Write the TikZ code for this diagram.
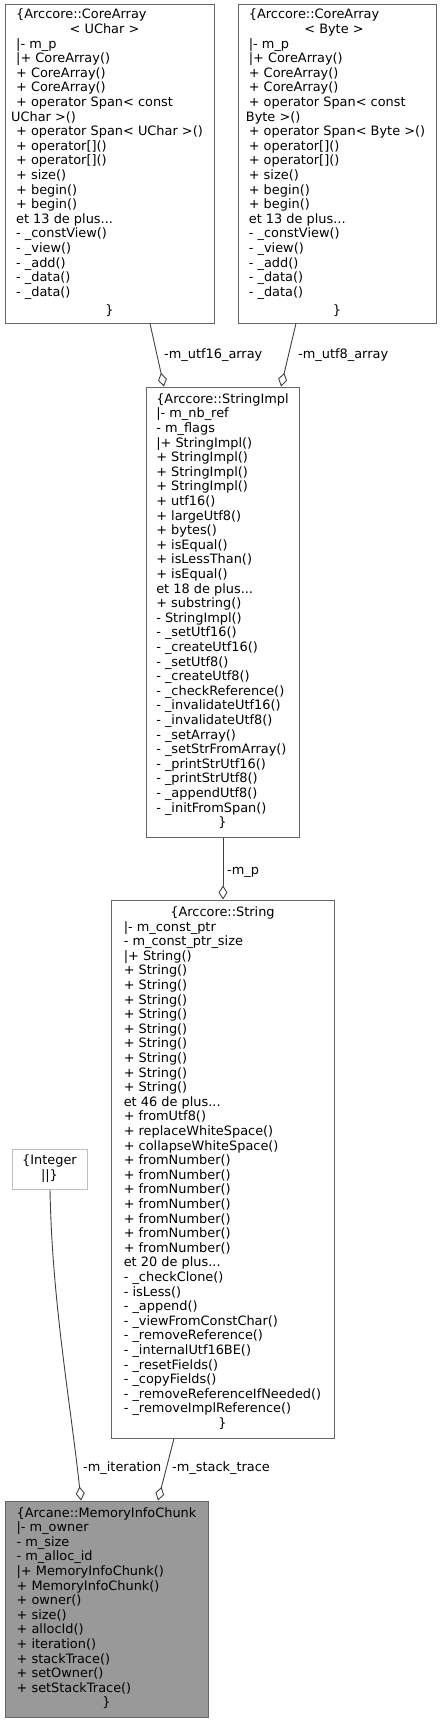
\documentclass[tikz,border=0pt]{standalone}
\usepackage{fontspec}
\setmainfont{DejaVu Sans}
\usetikzlibrary{arrows.meta}
\definecolor{boxborder}{HTML}{666666}
\definecolor{intborder}{HTML}{BFBFBF}
\definecolor{mainfill}{HTML}{999999}
\definecolor{edgecol}{HTML}{404040}
\newcommand\centredline[1]{\multicolumn{1}{@{}c@{}}{#1}}
\tikzset{
  umlbox/.style={draw=boxborder, fill=white, line width=1pt, inner sep=0pt, align=left},
  intbox/.style={draw=intborder, fill=white, line width=1pt, inner sep=0pt},
  mainbox/.style={draw=boxborder, fill=mainfill, line width=1pt, inner sep=0pt},
  relation/.style={draw=edgecol, line width=0.9pt, -{Diamond[open, length=14pt, width=9pt]}},
  rellabel/.style={anchor=west, inner sep=0pt}
}
\begin{document}
\begin{tikzpicture}[x=1pt, y=-1pt, font=\fontsize{12.9}{14.6}\selectfont]
\useasboundingbox (0,0) rectangle (442,1723);

% CoreArray<UChar>
\node[umlbox, minimum width=209pt, minimum height=318pt] (cauchar) at (109.5,164) {%
\begin{tabular}{@{}l@{}}
\{Arccore::CoreArray\\
\centredline{< UChar >\hspace*{10pt}}\\
|- m\_p\\
|+ CoreArray()\\
+ CoreArray()\\
+ CoreArray()\\
+ operator Span< const\\
\hspace*{-5pt}UChar >()\\
+ operator Span< UChar >()\\
+ operator[]()\\
+ operator[]()\\
+ size()\\
+ begin()\\
+ begin()\\
et 13 de plus...\\
- \_constView()\\
- \_view()\\
- \_add()\\
- \_data()\\
- \_data()\\[4pt]
\centredline{\}}
\end{tabular}};

% CoreArray<Byte>
\node[umlbox, minimum width=198pt, minimum height=318pt] (cabyte) at (337,164) {%
\begin{tabular}{@{}l@{}}
\{Arccore::CoreArray\\
\centredline{< Byte >\hspace*{6pt}}\\
|- m\_p\\
|+ CoreArray()\\
+ CoreArray()\\
+ CoreArray()\\
+ operator Span< const\\
\hspace*{-7pt}~Byte >()\\
+ operator Span< Byte >()\\
+ operator[]()\\
+ operator[]()\\
+ size()\\
+ begin()\\
+ begin()\\
et 13 de plus...\\
- \_constView()\\
- \_view()\\
- \_add()\\
- \_data()\\
- \_data()\\[4pt]
\centredline{\}}
\end{tabular}};

% StringImpl
\node[umlbox, minimum width=153pt, minimum height=450pt] (impl) at (222.5,612) {%
\begin{tabular}{@{}l@{}}
\{Arccore::StringImpl\\
|- m\_nb\_ref\\
- m\_flags\\
|+ StringImpl()\\
+ StringImpl()\\
+ StringImpl()\\
+ StringImpl()\\
+ utf16()\\
+ largeUtf8()\\
+ bytes()\\
+ isEqual()\\
+ isLessThan()\\
+ isEqual()\\
et 18 de plus...\\
+ substring()\\
- StringImpl()\\
- \_setUtf16()\\
- \_createUtf16()\\
- \_setUtf8()\\
- \_createUtf8()\\
- \_checkReference()\\
- \_invalidateUtf16()\\
- \_invalidateUtf8()\\
- \_setArray()\\
- \_setStrFromArray()\\
- \_printStrUtf16()\\
- \_printStrUtf8()\\
- \_appendUtf8()\\
- \_initFromSpan()\\
\centredline{\}}
\end{tabular}};

% String
\node[umlbox, minimum width=223pt, minimum height=538pt] (str) at (222.5,1169) {%
\begin{tabular}{@{}l@{}}
\centredline{\{Arccore::String}\\
|- m\_const\_ptr\\
- m\_const\_ptr\_size\\
|+ String()\\
+ String()\\
+ String()\\
+ String()\\
+ String()\\
+ String()\\
+ String()\\
+ String()\\
+ String()\\
+ String()\\
et 46 de plus...\\
+ fromUtf8()\\
+ replaceWhiteSpace()\\
+ collapseWhiteSpace()\\
+ fromNumber()\\
+ fromNumber()\\
+ fromNumber()\\
+ fromNumber()\\
+ fromNumber()\\
+ fromNumber()\\
+ fromNumber()\\
et 20 de plus...\\
- \_checkClone()\\
- isLess()\\
- \_append()\\
- \_viewFromConstChar()\\
- \_removeReference()\\
- \_internalUtf16BE()\\
- \_resetFields()\\
- \_copyFields()\\
- \_removeReferenceIfNeeded()\\
- \_removeImplReference()\\
\centredline{\}}
\end{tabular}};

% Integer
\node[intbox, minimum width=75pt, minimum height=40pt] (int) at (49.5,1169) {%
\begin{tabular}{@{}c@{}}
\{Integer\\
||\}
\end{tabular}};

% MemoryInfoChunk
\node[mainbox, minimum width=203pt, minimum height=216pt] (mic) at (106.5,1609) {%
\begin{tabular}{@{}l@{}}
\{Arcane::MemoryInfoChunk\\
|- m\_owner\\
- m\_size\\
- m\_alloc\_id\\
|+ MemoryInfoChunk()\\
+ MemoryInfoChunk()\\
+ owner()\\
+ size()\\
+ allocId()\\
+ iteration()\\
+ stackTrace()\\
+ setOwner()\\
+ setStackTrace()\\
\centredline{\}}
\end{tabular}};

% relations
\draw[relation] ([xshift=40.5pt]cauchar.south) -- ([xshift=-58.5pt]impl.north);
\draw[relation] ([xshift=-41pt]cabyte.south) -- ([xshift=58.5pt]impl.north);
\draw[relation] ([xshift=0.5pt]impl.south) -- ([xshift=0.5pt]str.north);
\draw[relation] ([xshift=-48.5pt]str.south) -- ([xshift=51.5pt]mic.north);
\draw[relation] ([xshift=0.5pt]int.south) .. controls +(2,111) and +(-11,-101) .. ([xshift=-25.5pt]mic.north);

% labels
\node[rellabel] (lutf16) at (164,355) {-m\_utf16\_array};
\node[rellabel] (lutf8) at (298,355) {-m\_utf8\_array};
\node[rellabel] (lmp) at (227,872) {-m\_p};
\node[rellabel] (liter) at (83,1468) {-m\_iteration};
\node[rellabel] (lstack) at (172,1468) {-m\_stack\_trace};
\end{tikzpicture}
\end{document}
